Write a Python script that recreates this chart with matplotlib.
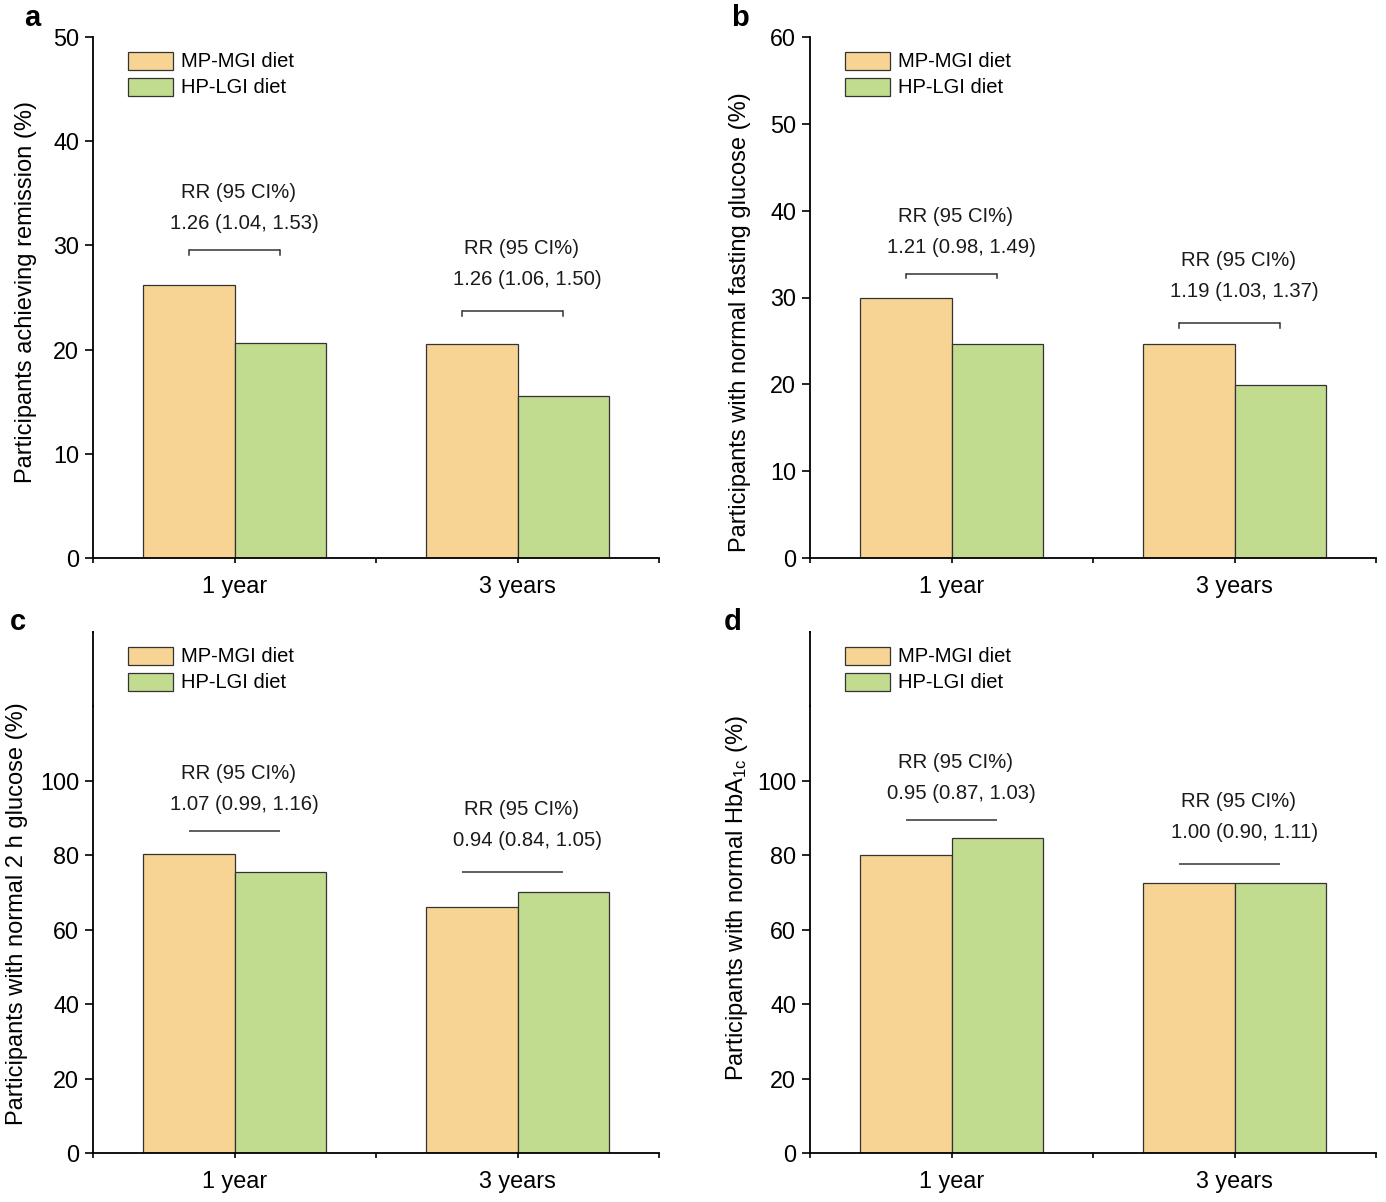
import numpy as np
import matplotlib
matplotlib.use("Agg")
import matplotlib.pyplot as plt

plt.rcParams['font.family'] = ['Liberation Sans', 'DejaVu Sans']
plt.rcParams['mathtext.fontset'] = 'custom'
plt.rcParams['mathtext.rm'] = 'Liberation Sans'
plt.rcParams['mathtext.it'] = 'Liberation Sans:italic'

# Data
kategorie = ['1 year', '3 years']
skupiny = ['MP-MGI diet', 'HP-LGI diet']
barvy = ['#F7D494', '#C1DC8E']

remise_mp = [26.2, 20.5]
remise_hp = [20.6, 15.5]
glukoza_mp = [30.0, 24.6]
glukoza_hp = [24.7, 19.9]
glukoza2h_mp = [80.3, 66.2]
glukoza2h_hp = [75.6, 70.1]
hba1c_mp = [80.1, 72.5]
hba1c_hp = [84.6, 72.5]

rr_a = ['1.26 (1.04, 1.53)', '1.26 (1.06, 1.50)']
rr_b = ['1.21 (0.98, 1.49)', '1.19 (1.03, 1.37)']
rr_c = ['1.07 (0.99, 1.16)', '0.94 (0.84, 1.05)']
rr_d = ['0.95 (0.87, 1.03)', '1.00 (0.90, 1.11)']

ylabel_a = 'Participants achieving remission (%)'
ylabel_b = 'Participants with normal fasting glucose (%)'
ylabel_c = 'Participants with normal 2 h glucose (%)'
ylabel_d = r'Participants with normal HbA$_{\mathrm{1c}}$ (%)'

W, H = 1386, 1202
fig = plt.figure(figsize=(W / 100, H / 100), dpi=100)


def px_rect(left, top, right, bottom):
    return [left / W, (H - bottom) / H, (right - left) / W, (bottom - top) / H]


sirka = 0.325

panely = [
    # (pismeno, rect, mp, hp, rr, ylabel, ymax, yticks, mezera_px, konce, ylabel pozice, pismeno px)
    ('a', px_rect(93, 37, 659, 558), remise_mp, remise_hp, rr_a, ylabel_a, 50,
     np.arange(0, 51, 10), [35, 33], True, (-0.119, 0.51), (32, 18)),
    ('b', px_rect(810, 37, 1376, 558), glukoza_mp, glukoza_hp, rr_b, ylabel_b, 60,
     np.arange(0, 61, 10), [24, 21], True, (-0.124, 0.453), (740, 18)),
    ('c', px_rect(93, 632, 659, 1153), glukoza2h_mp, glukoza2h_hp, rr_c, ylabel_c, 140,
     np.arange(0, 101, 20), [23, 20], False, (-0.134, 0.46), (18, 622)),
    ('d', px_rect(810, 632, 1376, 1153), hba1c_mp, hba1c_hp, rr_d, ylabel_d, 140,
     np.arange(0, 101, 20), [18, 19], False, (-0.129, 0.49), (733, 622)),
]

x = np.arange(1, len(kategorie) + 1)

for pismeno, rect, mp, hp, rr, ylabel, ymax, yticks, mezera, konce, ylpos, ppos in panely:
    ax = fig.add_axes(rect)
    ax.bar(x - sirka / 2, mp, sirka, color=barvy[0], edgecolor='#333333', linewidth=0.9,
           label=skupiny[0])
    ax.bar(x + sirka / 2, hp, sirka, color=barvy[1], edgecolor='#333333', linewidth=0.9,
           label=skupiny[1])

    ax.set_xlim(0.5, 2.5)
    ax.set_ylim(0, ymax)
    ax.set_xticks(x)
    ax.set_xticklabels(kategorie, fontsize=16.8)
    ax.set_xticks([0.5, 1.5, 2.5], minor=True)
    ax.set_yticks(yticks)
    ax.tick_params(axis='y', labelsize=16.8, length=6, width=1.2, pad=4)
    ax.tick_params(axis='x', which='both', length=3.5, width=1.2, pad=9)
    if ymax == 140:
        ax.set_yticks([120, 140], minor=True)
        ax.tick_params(axis='y', which='minor', length=2, width=1.2, direction='inout')
    for s in ['top', 'right']:
        ax.spines[s].set_visible(False)
    for s in ['left', 'bottom']:
        ax.spines[s].set_linewidth(1.3)

    ax.set_ylabel(ylabel, fontsize=17, va='center')
    ax.yaxis.set_label_coords(*ylpos)

    leg = ax.legend(loc='upper left', bbox_to_anchor=(0.062, 0.972), frameon=False,
                    fontsize=14.5, handlelength=2.25, handleheight=1.0,
                    handletextpad=0.4, labelspacing=0.3, borderpad=0, borderaxespad=0)
    for p in leg.get_patches():
        p.set_edgecolor('#333333')

    # RR anotace se zavorkou
    for i, xi in enumerate(x):
        vrch = max(mp[i], hp[i])
        trans = ax.transData
        # vyska zavorky v datech: vrchol sloupce + mezera v pixelech
        y0_px = trans.transform((0, vrch))[1] + mezera[i]
        yb = trans.inverted().transform((0, y0_px))[1]
        x1, x2 = xi - sirka / 2, xi + sirka / 2
        if i == 1:
            x1 -= 0.035
        ax.plot([x1, x2], [yb, yb], color='#333333', lw=1.1, solid_capstyle='butt')
        if konce:
            dy = trans.inverted().transform((0, y0_px - 5))[1]
            ax.plot([x1, x1], [yb, dy], color='#333333', lw=1.1)
            ax.plot([x2, x2], [yb, dy], color='#333333', lw=1.1)
        posun = 26.5 if i == 0 else 31.5
        ax.annotate(rr[i], (xi, yb), xytext=(7, posun / 1.389), textcoords='offset points',
                    ha='center', va='center', fontsize=14.6, color='#1a1a1a')
        ax.annotate('RR (95 CI%)', (xi, yb), xytext=(3, (posun + 31) / 1.389),
                    textcoords='offset points', ha='center', va='center',
                    fontsize=14.6, color='#1a1a1a')

    fig.text(ppos[0] / W, 1 - ppos[1] / H, pismeno, fontsize=21, fontweight='bold',
             ha='center', va='center')

fig.savefig('out.png', dpi=100)
